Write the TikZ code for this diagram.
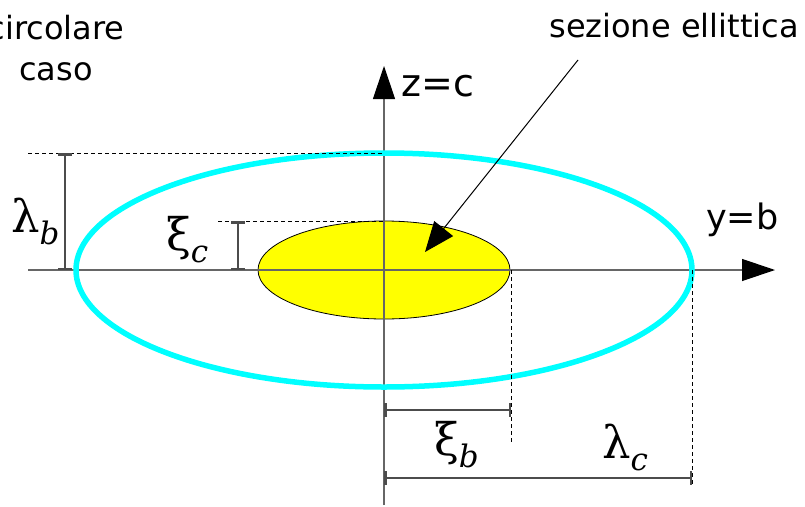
\documentclass[tikz,border=0pt]{standalone}
\usepackage{fontspec}
\setmainfont{DejaVu Sans}
\newfontfamily\grk{DejaVu Serif}
\usetikzlibrary{arrows.meta}
\definecolor{ring}{RGB}{0,255,255}
\definecolor{core}{RGB}{255,255,0}
\tikzset{
    axis/.style={draw=black!60, line width=1.2pt, -{Triangle[length=33pt,width=22pt,color=black]}},
    dimline/.style={draw=black!70, line width=1.1pt, {Bar[width=14pt,line width=2.5pt]}-{Bar[width=14pt,line width=2.5pt]}},
    guide/.style={draw=black, line width=0.8pt, dash pattern=on 4pt off 3pt},
    lab/.style={font=\fontsize{32}{41}\selectfont, inner sep=0pt},
    greek/.style={font=\grk\fontsize{45}{48}\selectfont, inner sep=0pt, anchor=base west},
}
\newcommand{\sbs}[1]{\raisebox{-12pt}{\fontsize{31}{31}\selectfont\itshape #1}}
\begin{document}
\begin{tikzpicture}[x=1pt,y=-1pt]
    \useasboundingbox (0,0) rectangle (805,506);
    \coordinate (O) at (384,270);
    \fill[core] (O) ellipse [x radius=126pt, y radius=49pt];
    \draw[black, line width=0.8pt] (O) ellipse [x radius=126pt, y radius=49pt];
    % assi
    \coordinate (ys) at (28,270);
    \coordinate (ye) at (775,270);
    \coordinate (zs) at (384,505);
    \coordinate (ze) at (384,66);
    \draw[axis] (ys) -- (ye);
    \draw[axis] (zs) -- (ze);
    \draw[ring, line width=5.5pt] (O) ellipse [x radius=308pt, y radius=117pt];
    \node[lab, font=\fontsize{38}{41}\selectfont, anchor=west] (zlab) at (401,86) {z=c};
    \node[lab, font=\fontsize{35}{41}\selectfont, anchor=west] (ylab) at (706,220) {y=b};
    \node[lab] (sez) at (674,26) {sezione ellittica};
    \node[lab, align=center] (circ) at (56,48) {circolare\\caso};
    % freccia
    \coordinate (p1) at (578,60);
    \coordinate (p2) at (425,252);
    \draw[line width=1pt, -{Triangle[length=30pt,width=24pt]}] (p1) -- (p2);
    % quote
    \coordinate (lb1) at (65,153);  \coordinate (lb2) at (65,270);
    \coordinate (xc1) at (238,221); \coordinate (xc2) at (238,270);
    \coordinate (xb1) at (384,410); \coordinate (xb2) at (511,410);
    \coordinate (lc1) at (384,478); \coordinate (lc2) at (692,478);
    \draw[guide] (28,153) -- (384,153);
    \draw[guide] (218,221) -- (384,221);
    \draw[guide] (511,270) -- (511,443);
    \draw[guide] (692,270) -- (692,485);
    \draw[dimline] (lb1) -- (lb2);
    \draw[dimline] (xc1) -- (xc2);
    \draw[dimline] (xb1) -- (xb2);
    \draw[dimline] (lc1) -- (lc2);
    \node[greek] (lbl) at (11,232) {λ\sbs{b}};
    \node[greek] (xcl) at (166,250) {ξ\sbs{c}};
    \node[greek] (xbl) at (434,455) {ξ\sbs{b}};
    \node[greek] (lcl) at (602,458) {λ\sbs{c}};
\end{tikzpicture}
\end{document}
